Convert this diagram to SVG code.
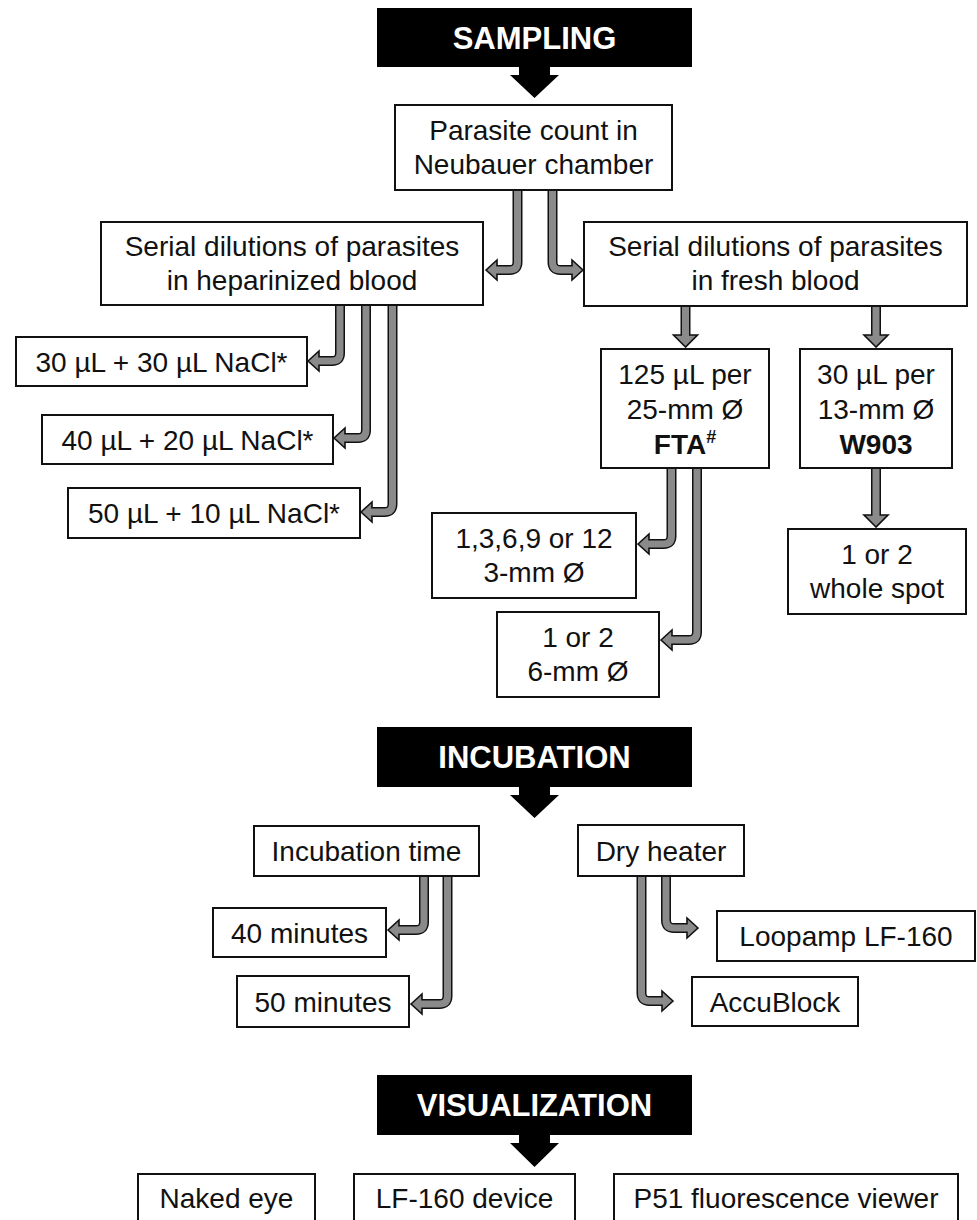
<svg xmlns="http://www.w3.org/2000/svg" width="977" height="1220" viewBox="0 0 977 1220">
<style>
.bn{fill:#000}
.bt{fill:#fff;font-family:"Liberation Sans",Arial,sans-serif;font-weight:bold;font-size:31px;text-anchor:middle}
.bx{fill:#fff;stroke:#111;stroke-width:2}
.t{fill:#111;font-family:"Liberation Sans",Arial,sans-serif;font-size:28px;text-anchor:middle}
.b{font-weight:bold}
.so{fill:none;stroke:#111;stroke-width:10}
.si{fill:none;stroke:#8a8a8a;stroke-width:7}
.hd{fill:#8a8a8a;stroke:#111;stroke-width:1.6;stroke-linejoin:miter}
</style>
<rect width="977" height="1220" fill="#fff"/>

<g id="connectors">
  <g id="c1"><path class="so" d="M517.5 190 V262 Q517.5 270 509.5 270 H497"/><polygon class="hd" points="486,270 497,260 497,280"/><path class="si" d="M517.5 191 V262 Q517.5 270 509.5 270 H495"/></g>
  <g id="c2"><path class="so" d="M552.5 190 V262 Q552.5 270 560.5 270 H572"/><polygon class="hd" points="583,270 572,260 572,280"/><path class="si" d="M552.5 191 V262 Q552.5 270 560.5 270 H574"/></g>
  <g id="c3"><path class="so" d="M340 305 V353 Q340 361 332 361 H319"/><polygon class="hd" points="308,361 319,351 319,371"/><path class="si" d="M340 306 V353 Q340 361 332 361 H317"/></g>
  <g id="c4"><path class="so" d="M366 305 V430 Q366 438 358 438 H345"/><polygon class="hd" points="334,438 345,428 345,448"/><path class="si" d="M366 306 V430 Q366 438 358 438 H343"/></g>
  <g id="c5"><path class="so" d="M392.5 305 V504 Q392.5 512 384.5 512 H372"/><polygon class="hd" points="361,512 372,502 372,522"/><path class="si" d="M392.5 306 V504 Q392.5 512 384.5 512 H370"/></g>
  <g id="c6"><path class="so" d="M685.5 306 V335"/><polygon class="hd" points="685.5,347 673.5,335 697.5,335"/><path class="si" d="M685.5 307 V337"/></g>
  <g id="c7"><path class="so" d="M876 306 V335"/><polygon class="hd" points="876,347 864,335 888,335"/><path class="si" d="M876 307 V337"/></g>
  <g id="c8"><path class="so" d="M876 468 V515"/><polygon class="hd" points="876,527 864,515 888,515"/><path class="si" d="M876 469 V517"/></g>
  <g id="c9"><path class="so" d="M671.5 468 V536 Q671.5 544 663.5 544 H649"/><polygon class="hd" points="638,544 649,534 649,554"/><path class="si" d="M671.5 469 V536 Q671.5 544 663.5 544 H647"/></g>
  <g id="c10"><path class="so" d="M697 468 V632 Q697 640 689 640 H672"/><polygon class="hd" points="661,640 672,630 672,650"/><path class="si" d="M697 469 V632 Q697 640 689 640 H670"/></g>
  <g id="c11"><path class="so" d="M424 876 V922 Q424 930 416 930 H399"/><polygon class="hd" points="388,930 399,920 399,940"/><path class="si" d="M424 877 V922 Q424 930 416 930 H397"/></g>
  <g id="c12"><path class="so" d="M447.5 876 V996 Q447.5 1004 439.5 1004 H422"/><polygon class="hd" points="411,1004 422,994 422,1014"/><path class="si" d="M447.5 877 V996 Q447.5 1004 439.5 1004 H420"/></g>
  <g id="c13"><path class="so" d="M666 876 V920 Q666 928 674 928 H687"/><polygon class="hd" points="698,928 687,918 687,938"/><path class="si" d="M666 877 V920 Q666 928 674 928 H689"/></g>
  <g id="c14"><path class="so" d="M641.5 876 V993 Q641.5 1001 649.5 1001 H662"/><polygon class="hd" points="673,1001 662,991 662,1011"/><path class="si" d="M641.5 877 V993 Q641.5 1001 649.5 1001 H664"/></g>
</g>

<g id="sampling">
  <rect class="bn" x="377" y="8" width="315" height="59"/>
  <polygon class="bn" points="519,66 550,66 550,75 559,75 534.5,98 510,75 519,75"/>
  <text class="bt" x="534.5" y="48.5">SAMPLING</text>
</g>
<g id="n-parasite">
  <rect class="bx" x="395" y="105" width="277" height="85"/>
  <text class="t" x="533.5" y="140">Parasite count in</text>
  <text class="t" x="533.5" y="174">Neubauer chamber</text>
</g>
<g id="n-hep">
  <rect class="bx" x="101" y="222" width="382" height="83"/>
  <text class="t" x="292" y="255.5">Serial dilutions of parasites</text>
  <text class="t" x="292" y="289.5">in heparinized blood</text>
</g>
<g id="n-fresh">
  <rect class="bx" x="584" y="222" width="383" height="84"/>
  <text class="t" x="775.5" y="256">Serial dilutions of parasites</text>
  <text class="t" x="775.5" y="290">in fresh blood</text>
</g>
<g id="n-30">
  <rect class="bx" x="16" y="337" width="291" height="49"/>
  <text class="t" x="161.5" y="371.5">30 µL + 30 µL NaCl*</text>
</g>
<g id="n-40">
  <rect class="bx" x="42" y="415" width="291" height="49"/>
  <text class="t" x="187.5" y="449.5">40 µL + 20 µL NaCl*</text>
</g>
<g id="n-50">
  <rect class="bx" x="68" y="488" width="292" height="50"/>
  <text class="t" x="214" y="523">50 µL + 10 µL NaCl*</text>
</g>
<g id="n-fta">
  <rect class="bx" x="601" y="349" width="168" height="119"/>
  <text class="t" x="685" y="383.5">125 µL per</text>
  <text class="t" x="685" y="418.5">25-mm Ø</text>
  <text class="t b" x="685" y="453.5">FTA<tspan font-size="18" dy="-11">#</tspan></text>
</g>
<g id="n-w903">
  <rect class="bx" x="800" y="349" width="152" height="119"/>
  <text class="t" x="876" y="383.5">30 µL per</text>
  <text class="t" x="876" y="418.5">13-mm Ø</text>
  <text class="t b" x="876" y="453.5">W903</text>
</g>
<g id="n-3mm">
  <rect class="bx" x="432" y="513" width="204" height="85"/>
  <text class="t" x="534" y="548">1,3,6,9 or 12</text>
  <text class="t" x="534" y="581.5">3-mm Ø</text>
</g>
<g id="n-6mm">
  <rect class="bx" x="497" y="612" width="162" height="85"/>
  <text class="t" x="578" y="647">1 or 2</text>
  <text class="t" x="578" y="680.5">6-mm Ø</text>
</g>
<g id="n-spot">
  <rect class="bx" x="788" y="529" width="178" height="85"/>
  <text class="t" x="877" y="564">1 or 2</text>
  <text class="t" x="877" y="597.5">whole spot</text>
</g>

<g id="incubation">
  <rect class="bn" x="377" y="727" width="315" height="60"/>
  <polygon class="bn" points="519,786 550,786 550,795 559,795 534.5,818 510,795 519,795"/>
  <text class="bt" x="534.5" y="768">INCUBATION</text>
</g>
<g id="n-inctime">
  <rect class="bx" x="254" y="826" width="225" height="50"/>
  <text class="t" x="366.5" y="861">Incubation time</text>
</g>
<g id="n-40min">
  <rect class="bx" x="213" y="908" width="173" height="49"/>
  <text class="t" x="299.5" y="942.5">40 minutes</text>
</g>
<g id="n-50min">
  <rect class="bx" x="237" y="976" width="172" height="51"/>
  <text class="t" x="323" y="1011.5">50 minutes</text>
</g>
<g id="n-dry">
  <rect class="bx" x="578" y="825" width="166" height="51"/>
  <text class="t" x="661" y="860.5">Dry heater</text>
</g>
<g id="n-loopamp">
  <rect class="bx" x="717" y="911" width="258" height="50"/>
  <text class="t" x="846" y="946">Loopamp LF-160</text>
</g>
<g id="n-accu">
  <rect class="bx" x="692" y="977" width="166" height="49"/>
  <text class="t" x="775" y="1011.5">AccuBlock</text>
</g>

<g id="visualization">
  <rect class="bn" x="377" y="1075" width="315" height="60"/>
  <polygon class="bn" points="519,1134 550,1134 550,1143 559,1143 534.5,1167 510,1143 519,1143"/>
  <text class="bt" x="534.5" y="1116">VISUALIZATION</text>
</g>
<g id="n-naked">
  <rect class="bx" x="138" y="1174" width="177" height="60"/>
  <text class="t" x="226.5" y="1208">Naked eye</text>
</g>
<g id="n-lf160">
  <rect class="bx" x="354" y="1174" width="221" height="60"/>
  <text class="t" x="464.5" y="1208">LF-160 device</text>
</g>
<g id="n-p51">
  <rect class="bx" x="614" y="1174" width="344" height="60"/>
  <text class="t" x="786" y="1208">P51 fluorescence viewer</text>
</g>
</svg>
